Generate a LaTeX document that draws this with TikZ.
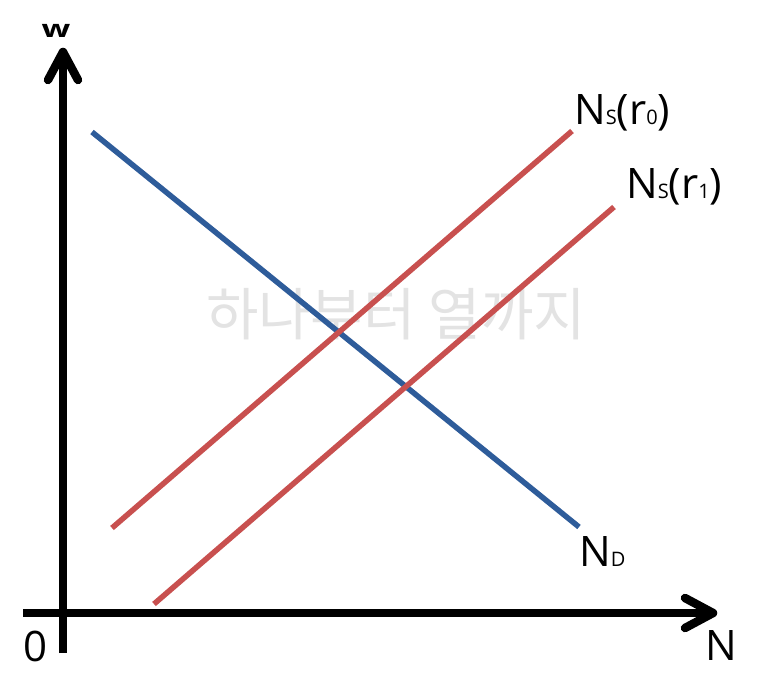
\documentclass[tikz,border=0pt]{standalone}
\usepackage{fontspec}
\setmainfont{Open Sans}
\newfontfamily\krfont{Noto Sans CJK KR}
\definecolor{dblue}{HTML}{2E5C9A}
\definecolor{dred}{HTML}{C8504F}
\definecolor{wmgray}{HTML}{E3E3E3}
\newcommand{\subsc}[1]{{\fontsize{20}{20}\selectfont #1}}
\begin{document}
\begin{tikzpicture}[x=1pt,y=-1pt,
  axis/.style={line width=8.5pt,black},
  tip/.style={line width=8.5pt,black,line cap=round,line join=round},
  curveblue/.style={line width=5.5pt,dblue},
  curvered/.style={line width=5.5pt,dred},
  lbl/.style={inner sep=0pt,font=\fontsize{42}{42}\selectfont}]
\useasboundingbox (0,0) rectangle (773,687);
% watermark
\node[inner sep=0pt,text=wmgray,font=\krfont\fontsize{57}{57}\selectfont] (wm) at (396,314) {하나부터 열까지};
% axes
\coordinate (ybot) at (63,653);
\coordinate (ytop) at (63,52);
\coordinate (xl) at (23,613);
\coordinate (xr) at (713,613);
\draw[axis] (ybot) -- (ytop);
\draw[axis] (xl) -- (xr);
\coordinate (ya1) at (48,80);
\coordinate (ya2) at (78,80);
\draw[tip] (ya1) -- (ytop) -- (ya2);
\coordinate (xa1) at (685,598);
\coordinate (xa2) at (685,628);
\draw[tip] (xa1) -- (xr) -- (xa2);
% curves
\coordinate (d1) at (92,132);
\coordinate (d2) at (579,527);
\coordinate (s01) at (112,528);
\coordinate (s02) at (572,131);
\coordinate (s11) at (154,604);
\coordinate (s12) at (614,207);
\draw[curveblue] (d1) -- (d2);
\draw[curvered] (s01) -- (s02);
\draw[curvered] (s11) -- (s12);
% labels
\node[lbl,anchor=base west] (lND) at (579,566) {N\subsc{D}};
\node[lbl,anchor=base west] (lS0) at (574,125) {N\subsc{S}(r\subsc{0})};
\node[lbl,anchor=base west] (lS1) at (626,198) {N\subsc{S}(r\subsc{1})};
\node[lbl,anchor=base] (lO) at (36,661) {0};
\node[lbl,anchor=base] (lN) at (721,660) {N};
\node[inner sep=0pt,anchor=base,font=\bfseries\fontsize{24}{24}\selectfont] (lw) at (56,38) {\scalebox{1.4}[1]{w}};
\end{tikzpicture}
\end{document}
